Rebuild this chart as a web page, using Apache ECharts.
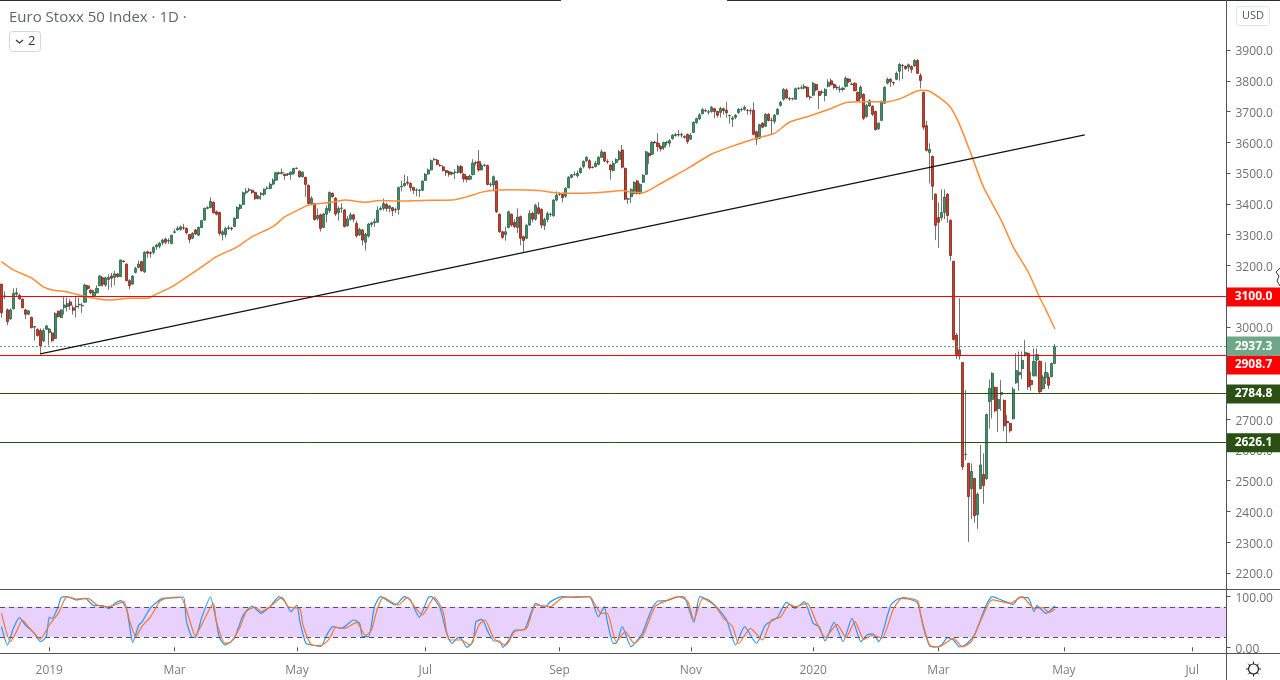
<!DOCTYPE html>
<html>
<head>
<meta charset="utf-8">
<title>Euro Stoxx 50 Index</title>
<style>html,body{margin:0;padding:0;background:#fff;overflow:hidden}#main{width:1280px;height:680px}</style>
<script src="https://cdn.jsdelivr.net/npm/echarts@6/dist/echarts.min.js"></script>
</head>
<body>
<div id="main"></div>
<script>
var opens = [
3139,3100,3055,3026,3058,3106,3102,3090,3055,3041,
3031,2999,2992,2988,2954,2992,2981,2980,2962,3051,
3030,3063,3066,3081,3062,3067,3071,3068,3080,3133,
3119,3100,3111,3134,3159,3136,3154,3165,3161,3172,
3163,3214,3204,3150,3139,3177,3193,3212,3179,3244,
3241,3242,3260,3262,3273,3285,3279,3271,3307,3315,
3317,3322,3320,3300,3288,3315,3298,3323,3347,3385,
3388,3405,3374,3372,3300,3300,3320,3321,3326,3353,
3385,3398,3436,3444,3444,3437,3417,3430,3431,3450,
3450,3464,3477,3500,3500,3496,3496,3496,3499,3515,
3506,3488,3486,3460,3401,3401,3352,3364,3323,3366,
3378,3434,3418,3371,3385,3380,3329,3350,3364,3336,
3299,3315,3275,3295,3333,3338,3340,3382,3385,3398,
3385,3387,3381,3382,3455,3459,3470,3466,3453,3444,
3444,3444,3476,3497,3510,3543,3542,3525,3520,3508,
3504,3497,3502,3502,3521,3496,3488,3480,3495,3533,
3537,3511,3525,3525,3463,3461,3474,3366,3309,3300,
3323,3366,3340,3323,3358,3293,3288,3331,3369,3350,
3387,3382,3329,3349,3365,3361,3412,3431,3430,3425,
3452,3486,3495,3491,3501,3521,3540,3540,3519,3521,
3528,3551,3567,3537,3526,3508,3534,3544,3575,3515,
3415,3423,3434,3474,3434,3470,3496,3564,3561,3600,
3597,3586,3584,3599,3597,3612,3622,3625,3625,3616,
3626,3610,3632,3664,3676,3693,3703,3698,3700,3709,
3700,3697,3709,3704,3686,3675,3681,3697,3706,3707,
3704,3703,3704,3634,3613,3662,3652,3691,3671,3668,
3691,3720,3740,3770,3742,3741,3740,3775,3776,3776,
3779,3747,3753,3788,3765,3762,3752,3782,3800,3788,
3778,3772,3772,3782,3805,3788,3792,3762,3745,3756,
3684,3718,3717,3700,3644,3671,3727,3792,3805,3794,
3805,3831,3850,3847,3844,3846,3848,3866,3817,3762,
3654,3567,3554,3431,3355,3355,3372,3431,3346,3213,
2973,2925,2884,2585,2556,2474,2507,2389,2474,2520,
2506,2757,2764,2803,2734,2780,2761,2693,2686,2701,
2818,2844,2864,2908,2914,2826,2841,2892,2888,2799,
2836,2836,2838,2881];
var closes = [
3046,3100,3017,3055,3109,3111,3091,3062,3041,3052,
2997,3001,2972,2938,2988,3003,2993,2955,3043,3033,
3055,3071,3076,3070,3054,3065,3073,3070,3136,3125,
3111,3112,3125,3165,3139,3159,3161,3158,3172,3163,
3217,3212,3150,3134,3165,3190,3204,3182,3242,3239,
3239,3258,3266,3272,3282,3275,3281,3298,3309,3320,
3325,3321,3306,3284,3304,3302,3323,3345,3385,3388,
3408,3371,3366,3304,3309,3320,3322,3319,3353,3388,
3396,3436,3441,3446,3437,3417,3425,3434,3448,3451,
3464,3477,3501,3499,3501,3492,3497,3503,3515,3516,
3488,3503,3463,3401,3418,3349,3362,3320,3367,3385,
3437,3423,3367,3385,3386,3326,3351,3364,3350,3296,
3317,3282,3301,3334,3338,3342,3379,3385,3401,3385,
3393,3378,3380,3453,3457,3466,3467,3453,3444,3445,
3445,3474,3496,3510,3540,3545,3528,3524,3508,3501,
3496,3501,3503,3521,3501,3481,3480,3490,3532,3534,
3510,3524,3526,3463,3464,3488,3374,3309,3291,3309,
3374,3331,3326,3357,3288,3281,3330,3369,3350,3395,
3369,3331,3349,3368,3366,3412,3428,3432,3420,3450,
3486,3494,3496,3499,3515,3538,3551,3517,3518,3532,
3551,3569,3539,3536,3510,3531,3544,3569,3519,3415,
3416,3447,3470,3434,3463,3493,3569,3556,3600,3599,
3586,3579,3599,3600,3605,3623,3625,3624,3624,3619,
3602,3623,3665,3677,3689,3706,3702,3699,3714,3700,
3688,3710,3703,3696,3687,3679,3688,3707,3707,3714,
3703,3702,3626,3610,3657,3649,3691,3671,3672,3688,
3707,3730,3772,3744,3741,3742,3774,3776,3777,3782,
3748,3746,3792,3770,3752,3763,3772,3795,3787,3778,
3777,3773,3776,3808,3797,3789,3768,3735,3779,3678,
3720,3735,3691,3641,3662,3732,3779,3805,3797,3793,
3824,3853,3849,3840,3852,3837,3866,3824,3801,3649,
3574,3577,3457,3330,3340,3372,3422,3362,3232,2959,
2910,2905,2545,2586,2448,2530,2386,2456,2551,2484,
2715,2800,2849,2727,2764,2787,2678,2688,2662,2797,
2858,2852,2891,2917,2805,2812,2888,2910,2789,2836,
2852,2810,2881,2935];
var highs = [
3139,3115,3060,3060,3125,3127,3108,3092,3058,3054,
3033,3003,2995,2995,2995,3006,2996,2985,3048,3053,
3057,3100,3095,3090,3070,3100,3095,3078,3140,3135,
3122,3120,3135,3168,3162,3163,3170,3175,3182,3175,
3219,3216,3206,3155,3168,3195,3215,3215,3246,3248,
3246,3262,3270,3276,3287,3290,3288,3300,3318,3328,
3330,3335,3323,3302,3308,3318,3326,3348,3388,3392,
3421,3408,3378,3374,3315,3325,3330,3325,3356,3392,
3400,3440,3452,3452,3446,3440,3430,3438,3450,3458,
3470,3483,3504,3505,3515,3498,3500,3505,3517,3518,
3509,3505,3488,3463,3425,3403,3385,3368,3370,3395,
3440,3437,3422,3392,3402,3383,3360,3372,3367,3345,
3322,3318,3305,3338,3342,3352,3392,3392,3417,3404,
3396,3390,3388,3456,3475,3495,3490,3470,3455,3450,
3448,3476,3500,3515,3544,3550,3546,3530,3525,3510,
3508,3505,3512,3527,3527,3500,3490,3495,3545,3540,
3575,3530,3530,3527,3470,3492,3476,3368,3312,3325,
3378,3369,3350,3385,3362,3297,3335,3380,3375,3400,
3405,3385,3355,3375,3372,3415,3440,3438,3433,3454,
3490,3497,3505,3508,3520,3541,3555,3545,3522,3540,
3555,3577,3570,3545,3530,3540,3548,3575,3591,3518,
3420,3450,3473,3478,3467,3497,3572,3567,3604,3605,
3630,3590,3602,3605,3610,3627,3630,3640,3630,3623,
3628,3630,3668,3680,3695,3712,3710,3705,3718,3712,
3703,3715,3713,3732,3690,3685,3692,3712,3712,3720,
3708,3710,3730,3638,3660,3665,3695,3695,3680,3692,
3712,3735,3776,3775,3748,3745,3778,3780,3785,3790,
3782,3752,3796,3790,3768,3770,3776,3805,3808,3792,
3785,3785,3780,3815,3808,3795,3795,3765,3785,3759,
3725,3740,3720,3703,3665,3736,3782,3810,3808,3798,
3830,3858,3855,3850,3856,3850,3870,3870,3825,3765,
3670,3597,3557,3434,3405,3447,3447,3435,3350,3215,
2980,3093,2885,2795,2558,2556,2510,2462,2616,2589,
2718,2829,2852,2806,2805,2827,2764,2713,2689,2805,
2914,2920,2920,2957,2917,2854,2930,2930,2890,2843,
2885,2849,2884,2944];
var lows = [
3030,3090,3005,3022,3058,3100,3088,3060,3025,3038,
2995,2955,2968,2910,2950,2990,2940,2950,2960,3030,
3028,3040,3050,3055,3040,3030,3060,3045,3078,3120,
3105,3095,3108,3132,3130,3130,3120,3128,3135,3160,
3162,3210,3148,3122,3137,3174,3190,3180,3175,3225,
3225,3236,3250,3255,3265,3268,3270,3268,3304,3312,
3312,3315,3300,3272,3285,3298,3295,3320,3345,3382,
3385,3368,3362,3296,3281,3290,3315,3312,3324,3351,
3380,3396,3430,3438,3432,3412,3414,3412,3425,3446,
3447,3460,3475,3495,3495,3478,3490,3478,3495,3512,
3485,3485,3423,3398,3395,3345,3345,3310,3321,3340,
3370,3420,3360,3345,3370,3323,3325,3345,3340,3290,
3295,3265,3248,3290,3325,3325,3338,3378,3378,3375,
3372,3360,3370,3365,3440,3455,3460,3440,3432,3425,
3422,3441,3474,3494,3508,3540,3525,3520,3505,3490,
3488,3492,3480,3498,3496,3470,3470,3476,3492,3525,
3505,3508,3520,3460,3455,3440,3370,3306,3285,3280,
3320,3325,3320,3305,3265,3242,3285,3328,3340,3345,
3365,3320,3315,3340,3358,3358,3408,3425,3405,3420,
3450,3483,3490,3485,3498,3515,3535,3512,3515,3518,
3525,3548,3535,3530,3478,3505,3530,3540,3515,3412,
3400,3403,3430,3430,3430,3468,3494,3530,3558,3596,
3570,3570,3575,3590,3585,3608,3618,3618,3615,3612,
3595,3608,3630,3660,3672,3690,3698,3690,3696,3678,
3680,3680,3690,3680,3660,3650,3675,3692,3700,3703,
3690,3690,3622,3591,3610,3645,3650,3668,3627,3660,
3688,3716,3735,3740,3735,3736,3738,3770,3772,3772,
3745,3738,3750,3765,3708,3755,3733,3778,3784,3772,
3770,3762,3765,3778,3793,3785,3765,3730,3740,3672,
3680,3715,3685,3638,3640,3670,3725,3788,3780,3785,
3802,3800,3805,3835,3830,3825,3845,3822,3775,3640,
3570,3466,3412,3282,3257,3345,3350,3338,3215,2955,
2895,2893,2534,2567,2301,2375,2363,2343,2472,2425,
2503,2669,2702,2722,2658,2727,2661,2624,2656,2699,
2815,2792,2830,2903,2795,2792,2838,2838,2785,2797,
2814,2798,2836,2878];

// moving average at these bars
var maBars = [0,4,10,14,17,22,27,32,36,43,49,52,57,63,69,72,79,84,91,95,100,103,110,115,122,127,133,141,151,156,161,166,172,180,188,197,203,208,211,215,220,227,231,238,246,253,259,264,270,278,283,289,296,301,308,311,315,318,321,325,329,335,339,344,348,350,353];
var maValues = [3212,3185,3159,3130,3120,3113,3101,3091,3087,3093,3093,3107,3130,3168,3208,3228,3260,3293,3326,3358,3383,3396,3404,3412,3405,3411,3409,3411,3412,3423,3438,3445,3446,3443,3434,3435,3439,3443,3438,3436,3461,3499,3521,3562,3591,3613,3629,3665,3683,3710,3729,3732,3731,3741,3769,3766,3740,3714,3659,3559,3456,3347,3260,3179,3093,3055,2993];

// stochastic %K and %D
var kBars = [0,2,4,6,8,11,13,15,16,17,19,20,22,25,28,31,34,36,38,40,42,44,46,47,50,54,59,61,62,64,65,67,70,72,73,75,78,81,84,87,90,93,95,97,99,100,102,104,107,109,111,114,118,120,121,123,125,127,129,132,135,137,140,143,144,147,149,151,153,154,156,158,159,161,163,165,167,168,170,172,175,179,182,184,188,192,197,200,202,203,205,206,208,211,214,215,218,220,223,227,229,232,234,237,240,243,246,249,253,256,260,263,266,269,272,274,276,279,282,285,288,290,292,294,298,301,304,307,309,311,313,315,317,319,321,323,326,330,332,335,339,341,344,346,347,350,353];
var kValues = [40.7,4.5,37.5,58.5,44,27.6,11.1,21,59,57,80.3,98,100,93.5,96.7,82.3,82.3,76.3,86.9,92.1,73.7,9.8,44,49.3,78.3,96.7,98,99.4,50.6,19.7,19.7,57.2,99.4,50.6,19.7,4.5,17.7,63.8,81.6,67.1,80.3,100,90.2,70.4,83.6,50.6,7.8,4.5,1.9,24.3,40.7,37.5,53.9,47.3,21,21,80.3,100,93.5,83.6,100,93.5,59.2,98,100,77,30.9,7.8,19,17.7,0,11.1,50.6,55.2,30.9,12.4,12.4,0,14.4,34.2,34.2,86.9,79,90.2,100,98.7,100,60.5,80.3,50.6,7.8,7.8,40.7,1.2,21,30.9,77,91.5,92.1,100,98,49.3,100,93.5,77,53.9,4.5,40.7,7.8,44,59.2,88.8,77,90.2,47.3,40.7,12.4,49.3,11.1,57.2,11.1,24.3,26.3,11.1,83.6,96.7,95.4,86.9,37.5,3.2,0.6,4.5,19,14.4,0.6,4.5,24.3,83.6,100,93.5,84.9,98.7,98,70.4,82.3,67.1,81.6];
var dBars = [0,3,5,7,9,11,13,16,19,22,25,29,32,35,38,41,43,45,47,50,53,55,60,62,65,67,71,72,75,77,80,82,85,87,90,94,96,100,101,104,107,110,112,115,119,122,124,126,128,130,133,136,138,141,145,148,150,154,157,160,162,165,169,172,176,179,184,188,197,199,201,203,206,209,212,215,219,222,227,230,232,235,239,242,245,247,251,255,258,261,264,266,270,273,276,280,283,286,289,292,295,299,302,307,308,311,314,319,322,325,328,332,338,342,346,349,351,353];
var dValues = [67.1,11.1,30.9,53.9,40.7,27.6,15.7,44,67.1,100,95.4,96.7,83.6,80.3,83.6,90.2,50.6,21,40.7,60.5,90.2,96.7,99.4,73.7,23,44,86.9,50.6,7.8,11.1,40.7,70.4,79.6,70.4,80.3,98.7,80.3,75.7,44,4.5,3.2,17.7,39.4,37.5,49.3,23,34.2,77,98.7,92.1,83.6,98.7,83.6,63.8,98.7,70.4,14.4,14.4,4.5,44,53.9,17.7,4.5,30.9,37.5,83.6,80.3,98,100,83.6,67.1,67.1,11.1,30.9,7.8,24.3,80.3,90.2,100,90.2,53.9,96.7,82.3,57.2,40.7,7.8,37.5,14.4,53.9,59.2,84.9,80.3,86.9,50.6,19,45.4,19,50.6,15.7,24.3,17.7,77,98,91.5,63.8,4.5,0.6,17.7,0.6,11.1,50.6,93.5,86.9,100,77,78.3,68.4,75.7];

// trendline ends and horizontal levels
var trendBars = [13,363];
var trendValues = [2912,3624];
var levelValues = [3100.0,2908.7,2784.8,2626.1];
var levelColors = ['#ff0000','#ff0000','#2b5014','#2b5014'];
var lastPrice = 2937.3;

var priceTicks = [2200,2300,2400,2500,2600,2700,2800,2900,3000,3100,3200,3300,3400,3500,3600,3700,3800,3900];
var stochTicks = [0,100];
var dateBars = [16,58,99,142,187,231,272,314,356,399];
var dateLabels = ['2019','Mar','May','Jul','Sep','Nov','2020','Mar','May','Jul'];
var barCount = 411;

var categories = [];
for (var c = 0; c < barCount; c++) categories.push(String(c));

var pairs = function(xs, ys) {
	return xs.map(function(x, i) { return [x, ys[i]]; });
};

var setChart = function() {
	var myChart = echarts.init(document.getElementById('main'), null, {renderer: 'canvas'});
	var wicks = opens.map(function(o, i) { return [o, closes[i], lows[i], highs[i]]; });
	var bodies = opens.map(function(o, i) {
		return [o, closes[i], Math.min(o, closes[i]), Math.max(o, closes[i])];
	});
	var font = '"Open Sans", sans-serif';
	var isDate = function(i) { return dateBars.indexOf(i) >= 0; };

	var levelLines = levelValues.map(function(v, i) {
		return {
			yAxis: v,
			lineStyle: {color: levelColors[i], width: 1, type: 'solid'},
			label: {
				backgroundColor: levelColors[i],
				// the 2908.7 tag is pushed below the last price tag
				offset: v === 2908.7 ? [27, 10] : [27, 1]
			}
		};
	});
	levelLines.push({
		yAxis: lastPrice,
		lineStyle: {color: '#5b9e7d', width: 1, type: [2, 2]},
		label: {backgroundColor: '#6fa888', offset: [27, 0]}
	});

	myChart.setOption({
		animation: false,
		backgroundColor: '#ffffff',
		grid: [
			{left: 0, top: 1, width: 1226.5, height: 588},
			{left: 0, top: 590, width: 1226.5, height: 63}
		],
		xAxis: [
			{type: 'category', gridIndex: 0, data: categories, axisLine: {show: false}, axisTick: {show: false}, axisLabel: {show: false}, splitLine: {show: false}},
			{
				type: 'category', gridIndex: 1, data: categories,
				axisLine: {show: false},
				axisTick: {show: true, length: 4, alignWithLabel: true, interval: function(i) { return isDate(i); }, lineStyle: {color: '#50535e'}},
				axisLabel: {
					interval: function(i) { return isDate(i); },
					formatter: function(v, i) { return dateLabels[dateBars.indexOf(i)] || ''; },
					color: function(v, i) { return i === 16 || i === 272 ? '#555555' : '#7d7d7d'; },
					fontFamily: font, fontSize: 12, margin: 12
				},
				splitLine: {show: false}
			}
		],
		yAxis: [
			{
				type: 'value', gridIndex: 0, position: 'right', min: 2147.7, max: 4059.3, scale: true,
				axisLine: {show: false},
				axisTick: {show: true, length: 4, customValues: priceTicks, lineStyle: {color: '#50535e'}},
				axisLabel: {customValues: priceTicks, formatter: function(v) { return v.toFixed(1); }, color: '#707070', fontFamily: font, fontSize: 12, margin: 9, verticalAlign: 'top', lineHeight: 4},
				splitLine: {show: false}
			},
			{
				type: 'value', gridIndex: 1, position: 'right', min: -11.3, max: 113.2,
				axisLine: {show: false},
				axisTick: {show: true, length: 4, customValues: stochTicks, lineStyle: {color: '#50535e'}},
				axisLabel: {customValues: stochTicks, formatter: function(v) { return v.toFixed(2); }, color: '#707070', fontFamily: font, fontSize: 12, margin: 9, verticalAlign: 'top', lineHeight: 4},
				splitLine: {show: false}
			}
		],
		series: [
			{
				name: 'wicks', type: 'candlestick', xAxisIndex: 0, yAxisIndex: 0, data: wicks, barWidth: 1,
				itemStyle: {color: '#757575', color0: '#757575', borderColor: '#757575', borderColor0: '#757575', borderWidth: 1},
				z: 2
			},
			{
				name: 'bodies', type: 'candlestick', xAxisIndex: 0, yAxisIndex: 0, data: bodies, barWidth: 2.6,
				itemStyle: {color: '#3f9069', color0: '#cc3d2c', borderColor: '#2a6347', borderColor0: '#7c2618', borderWidth: 0.8},
				z: 3
			},
			{
				name: 'ma', type: 'line', xAxisIndex: 0, yAxisIndex: 0, data: pairs(maBars, maValues), showSymbol: false, smooth: 0.2,
				lineStyle: {color: '#ff8c38', width: 1.5}, z: 4, silent: true
			},
			{
				name: 'trend', type: 'line', xAxisIndex: 0, yAxisIndex: 0, data: pairs(trendBars, trendValues), showSymbol: false,
				lineStyle: {color: '#111111', width: 1.2}, z: 5, silent: true
			},
			{
				name: 'levels', type: 'line', xAxisIndex: 0, yAxisIndex: 0, data: [], silent: true, z: 6,
				markLine: {
					silent: true, symbol: 'none', animation: false,
					label: {
						position: 'end', distance: 0, color: '#ffffff', fontFamily: font, fontSize: 12, fontWeight: 'bold',
						width: 54, align: 'center', padding: [3, 0, 3, 0], lineHeight: 13,
						formatter: function(p) { return p.value.toFixed(1); }
					},
					data: levelLines
				}
			},
			{
				name: 'k', type: 'line', xAxisIndex: 1, yAxisIndex: 1, data: pairs(kBars, kValues), showSymbol: false, smooth: 0.2,
				lineStyle: {color: '#2c96f5', width: 1.2}, z: 4, silent: true,
				markArea: {silent: true, itemStyle: {color: '#e9d1fd', opacity: 1}, data: [[{yAxis: 80}, {yAxis: 20}]]},
				markLine: {silent: true, symbol: 'none', label: {show: false}, lineStyle: {color: '#555555', width: 1, type: [5, 4]}, data: [{yAxis: 80}, {yAxis: 20}]}
			},
			{
				name: 'd', type: 'line', xAxisIndex: 1, yAxisIndex: 1, data: pairs(dBars, dValues), showSymbol: false, smooth: 0.2,
				lineStyle: {color: '#f5772f', width: 1.2}, z: 5, silent: true
			}
		],
		graphic: [
			{type: 'rect', shape: {x: 0, y: 0, width: 561, height: 1}, style: {fill: '#2a2e39'}, z: 20},
			{type: 'rect', shape: {x: 727, y: 0, width: 553, height: 1}, style: {fill: '#2a2e39'}, z: 20},
			{type: 'rect', shape: {x: 0, y: 589, width: 1280, height: 1}, style: {fill: '#50535e'}, z: 20},
			{type: 'rect', shape: {x: 0, y: 653, width: 1280, height: 1}, style: {fill: '#50535e'}, z: 20},
			{type: 'rect', shape: {x: 1226, y: 0, width: 1, height: 680}, style: {fill: '#50535e'}, z: 20},
			{type: 'text', x: 9, y: 10, style: {text: 'Euro Stoxx 50 Index \u00b7 1D \u00b7', fill: '#62656e', font: '15px ' + font}, z: 20},
			{type: 'rect', shape: {x: 9.5, y: 31.5, width: 31, height: 20, r: 3}, style: {fill: '#ffffff', stroke: '#d4d6dc'}, z: 20},
			{type: 'polyline', shape: {points: [[16, 40], [19.5, 43], [23, 40]]}, style: {stroke: '#333333', lineWidth: 1.2, fill: 'none'}, z: 21},
			{type: 'text', x: 28, y: 35, style: {text: '2', fill: '#333333', font: '13px ' + font}, z: 21},
			{type: 'rect', shape: {x: 1236.5, y: 6.5, width: 33, height: 19, r: 3}, style: {fill: '#ffffff', stroke: '#e0e3eb'}, z: 20},
			{type: 'text', x: 1242, y: 10, style: {text: 'USD', fill: '#555555', font: '11px ' + font}, z: 21},
			{type: 'polyline', shape: {points: [[1280, 268], [1276, 272], [1279, 276], [1277, 281], [1280, 286]]}, style: {stroke: '#333333', lineWidth: 1, fill: 'none'}, z: 21},
			{type: 'circle', shape: {cx: 1253.5, cy: 669, r: 5}, style: {fill: '#ffffff', stroke: '#222222', lineWidth: 1.2}, z: 21},
			{type: 'line', shape: {x1: 1253.5, y1: 661.5, x2: 1253.5, y2: 676.5}, style: {stroke: '#222222', lineWidth: 1}, z: 20},
			{type: 'line', shape: {x1: 1246, y1: 669, x2: 1261, y2: 669}, style: {stroke: '#222222', lineWidth: 1}, z: 20},
			{type: 'line', shape: {x1: 1248.2, y1: 663.7, x2: 1258.8, y2: 674.3}, style: {stroke: '#222222', lineWidth: 1}, z: 20},
			{type: 'line', shape: {x1: 1258.8, y1: 663.7, x2: 1248.2, y2: 674.3}, style: {stroke: '#222222', lineWidth: 1}, z: 20}
		]
	});
};
setChart();
</script>
</body>
</html>
